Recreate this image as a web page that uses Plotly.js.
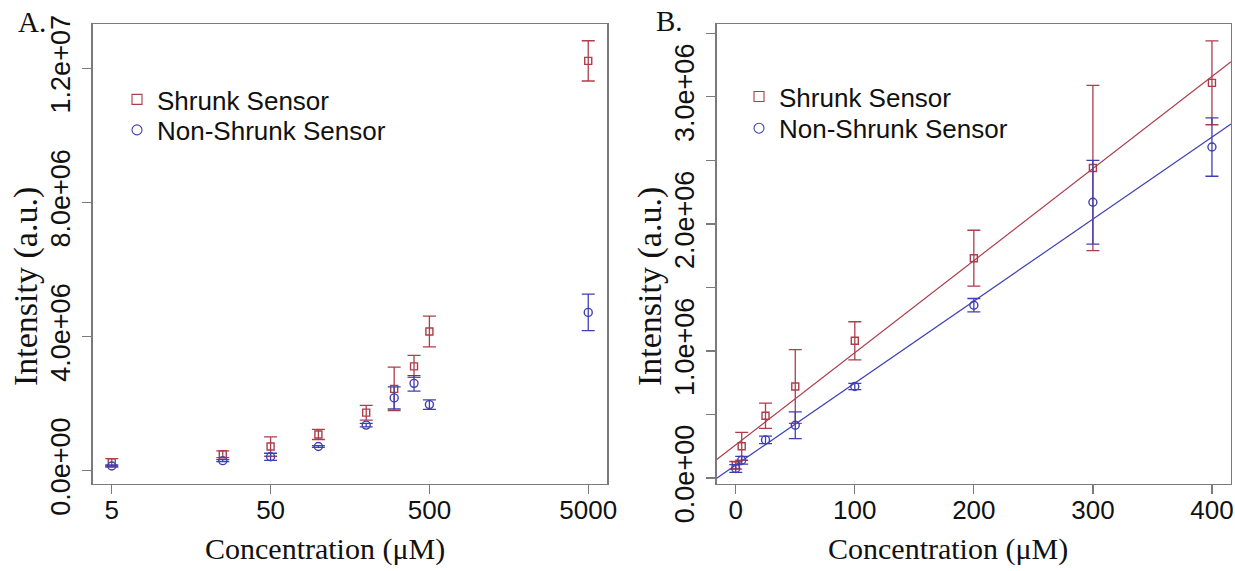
<!DOCTYPE html>
<html>
<head>
<meta charset="utf-8">
<script src="https://cdn.plot.ly/plotly-3.0.1.min.js"></script>
<style>
  html, body { margin: 0; padding: 0; background: #fff; }
  #chart { width: 1235px; height: 571px; }
</style>
</head>
<body>
<div id="chart"></div>
<script>
// ---- data ----
const concentration   = [0, 5, 25, 50, 100, 200, 300, 400, 500, 5000];
const shrunk          = [0.10e6, 0.25e6, 0.49e6, 0.72e6, 1.08e6, 1.73e6, 2.44e6, 3.11e6, 4.15e6, 12.22e6];
const shrunkErr       = [0.03e6, 0.11e6, 0.10e6, 0.29e6, 0.15e6, 0.22e6, 0.65e6, 0.33e6, 0.46e6, 0.60e6];
const nonShrunk       = [0.075e6, 0.14e6, 0.30e6, 0.415e6, 0.72e6, 1.36e6, 2.17e6, 2.605e6, 1.97e6, 4.72e6];
const nonShrunkErr    = [0.03e6, 0.03e6, 0.03e6, 0.105e6, 0.025e6, 0.053e6, 0.33e6, 0.23e6, 0.14e6, 0.545e6];

const seriesNames     = ['Shrunk Sensor', 'Non-Shrunk Sensor'];
const xTitleText      = 'Concentration (μM)';
const yTitleText      = 'Intensity (a.u.)';
const xTicksA         = [5, 50, 500, 5000];
const xTickTextA      = ['5', '50', '500', '5000'];
const yTicksA         = [0, 4e6, 8e6, 12e6];
const yTickTextA      = ['0.0e+00', '4.0e+06', '8.0e+06', '1.2e+07'];
const xTicksB         = [0, 100, 200, 300, 400];
const yTicksB         = [0, 0.5e6, 1.0e6, 1.5e6, 2.0e6, 2.5e6, 3.0e6, 3.5e6];
const yTickTextB      = ['0.0e+00', '', '1.0e+06', '', '2.0e+06', '', '3.0e+06', ''];

// ---- styling ----
const RED = '#ad3d4a';
const BLUE = '#3f3fb5';
const AXC = '#7a7a7a';
const SANS = 'Liberation Sans, Arial, sans-serif';
const SERIF = 'Liberation Serif, Times New Roman, serif';
const W = 1235, H = 571;

// panel subsets
const idxA = concentration.map((c, i) => i).filter(i => concentration[i] > 0);
const idxB = concentration.map((c, i) => i).filter(i => concentration[i] <= 400);
const pick = (arr, idx) => idx.map(i => arr[i]);

// least-squares fit (as in the original abline(lm(...)))
function ols(x, y) {
  const n = x.length;
  const mx = x.reduce((a, b) => a + b, 0) / n;
  const my = y.reduce((a, b) => a + b, 0) / n;
  let sxy = 0, sxx = 0;
  for (let i = 0; i < n; i++) { sxy += (x[i] - mx) * (y[i] - my); sxx += (x[i] - mx) ** 2; }
  const b = sxy / sxx;
  return { a: my - b * mx, b: b };
}

const xRangeB = [-16, 416];
const xRangeA = [Math.log10(5) - 0.12, Math.log10(5000) + 0.12];
const yRangeA = [-0.397e6, 13.32e6];
const yRangeB = [-0.047e6, 3.573e6];

const xB = pick(concentration, idxB);
const fitS = ols(xB, pick(shrunk, idxB));
const fitN = ols(xB, pick(nonShrunk, idxB));

function pts(xs, ys, es, color, symbol, size, xa, ya) {
  return {
    type: 'scatter', mode: 'markers', x: xs, y: ys, xaxis: xa, yaxis: ya,
    showlegend: false, cliponaxis: false,
    marker: { symbol: symbol, size: size, color: color, line: { color: color, width: 1.4 } },
    error_y: { type: 'data', array: es, visible: true, color: color, thickness: 1.3, width: 6.5 },
    hoverinfo: 'x+y'
  };
}
function fitLine(fit, color) {
  return {
    type: 'scatter', mode: 'lines', xaxis: 'x2', yaxis: 'y2', showlegend: false,
    x: xRangeB, y: xRangeB.map(v => fit.a + fit.b * v),
    line: { color: color, width: 1.2 }, hoverinfo: 'skip'
  };
}
function legendItem(name, color, symbol, legendId) {
  return {
    type: 'scatter', mode: 'markers', x: [null], y: [null], name: name,
    legend: legendId, showlegend: true,
    marker: { symbol: symbol, size: 10, color: color, line: { color: color, width: 1.1 } }
  };
}

const data = [
  pts(pick(concentration, idxA), pick(shrunk, idxA), pick(shrunkErr, idxA), RED, 'square-open', 7, 'x', 'y'),
  pts(pick(concentration, idxA), pick(nonShrunk, idxA), pick(nonShrunkErr, idxA), BLUE, 'circle-open', 8, 'x', 'y'),
  fitLine(fitS, RED),
  fitLine(fitN, BLUE),
  pts(xB, pick(shrunk, idxB), pick(shrunkErr, idxB), RED, 'square-open', 7, 'x2', 'y2'),
  pts(xB, pick(nonShrunk, idxB), pick(nonShrunkErr, idxB), BLUE, 'circle-open', 8, 'x2', 'y2'),
  legendItem(seriesNames[0], RED, 'square-open', 'legend'),
  legendItem(seriesNames[1], BLUE, 'circle-open', 'legend2'),
  legendItem(seriesNames[0], RED, 'square-open', 'legend3'),
  legendItem(seriesNames[1], BLUE, 'circle-open', 'legend4')
];

const baseAxis = {
  showline: true, mirror: true, linecolor: AXC, linewidth: 1.3,
  ticks: 'outside', ticklen: 9, tickwidth: 1.3, tickcolor: AXC,
  showgrid: false, zeroline: false
};
const xTickFont = { family: SANS, size: 26, color: '#111' };
const yTickFont = { family: SANS, size: 27, color: '#111' };

const yDom = [1 - 484 / H, 1 - 24 / H];

function legendAt(px, py) {
  return {
    x: (px - 20) / W, y: 1 - py / H, xanchor: 'left', yanchor: 'middle',
    bgcolor: 'rgba(0,0,0,0)', borderwidth: 0,
    font: { family: SANS, size: 26, color: '#111' }
  };
}
function txt(text, px, py, size, angle) {
  return {
    text: text, xref: 'paper', yref: 'paper', x: px / W, y: 1 - py / H,
    xanchor: 'center', yanchor: 'middle', showarrow: false, textangle: angle || 0,
    font: { family: SERIF, size: size, color: '#111' }
  };
}

const layout = {
  width: W, height: H,
  margin: { l: 0, r: 0, t: 0, b: 0 },
  paper_bgcolor: '#fff', plot_bgcolor: '#fff',
  xaxis: Object.assign({}, baseAxis, {
    domain: [92.7 / W, 607.3 / W], anchor: 'y', type: 'log', range: xRangeA,
    tickmode: 'array', tickvals: xTicksA, ticktext: xTickTextA, tickfont: xTickFont, ticklabelstandoff: -7
  }),
  yaxis: Object.assign({}, baseAxis, {
    domain: yDom, anchor: 'x', range: yRangeA,
    tickmode: 'array', tickvals: yTicksA, ticktext: yTickTextA, tickangle: -90,
    tickfont: yTickFont, ticklabelstandoff: 2
  }),
  xaxis2: Object.assign({}, baseAxis, {
    domain: [716.7 / W, 1231 / W], anchor: 'y2', range: xRangeB,
    tickmode: 'array', tickvals: xTicksB, tickfont: xTickFont, ticklabelstandoff: -7
  }),
  yaxis2: Object.assign({}, baseAxis, {
    domain: yDom, anchor: 'x2', range: yRangeB,
    tickmode: 'array', tickvals: yTicksB, ticktext: yTickTextB, tickangle: -90,
    tickfont: yTickFont, ticklabelstandoff: 2
  }),
  legend: legendAt(137, 99.5),
  legend2: legendAt(137, 130),
  legend3: legendAt(759, 96.6),
  legend4: legendAt(759, 128.3),
  annotations: [
    txt('A.', 31.5, 22, 29),
    txt('B.', 669, 21.5, 29),
    txt(xTitleText, 325, 549, 30),
    txt(xTitleText, 948, 549, 30),
    txt(yTitleText, 26, 287, 34, -90),
    txt(yTitleText, 650, 287, 34, -90)
  ]
};

Plotly.newPlot('chart', data, layout, { displayModeBar: false, staticPlot: true });
</script>
</body>
</html>
